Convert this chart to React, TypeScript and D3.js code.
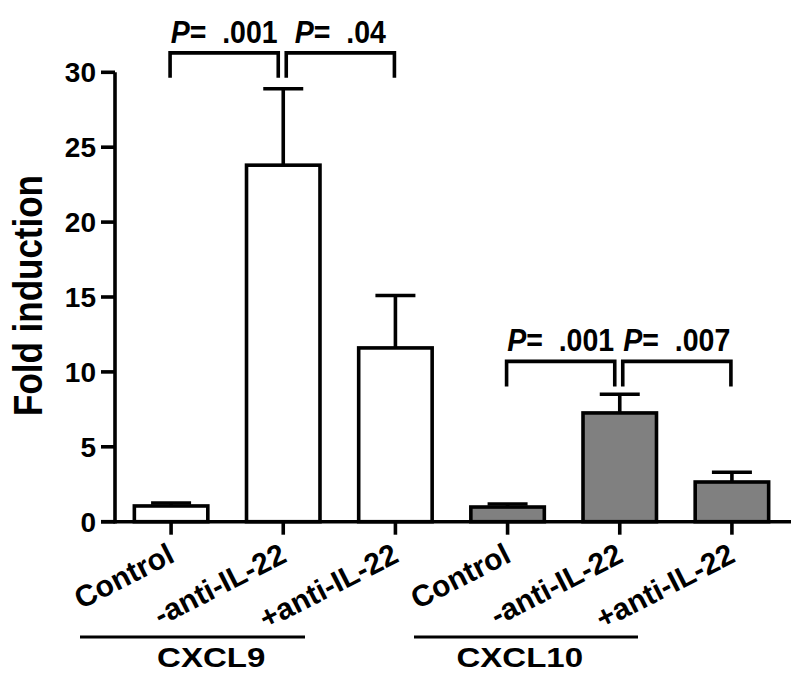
import React from "react";
import * as d3 from "d3";

const categories = ["Control", "-anti-IL-22", "+anti-IL-22", "Control", "-anti-IL-22", "+anti-IL-22"];
const groupOf = ["CXCL9", "CXCL9", "CXCL9", "CXCL10", "CXCL10", "CXCL10"];
const means = [1.05, 23.8, 11.6, 0.98, 7.26, 2.65];
const sems = [0.2, 5.1, 3.5, 0.2, 1.25, 0.65];
const yTicks = [0, 5, 10, 15, 20, 25, 30];
const groups = ["CXCL9", "CXCL10"];
const compFrom = [0, 1, 3, 4];
const compTo = [1, 2, 4, 5];
const compP = [".001", ".04", ".001", ".007"];
const compLevel = [31.3, 31.3, 10.7, 10.7];

const W = 800;
const H = 690;
const FONT = "'Liberation Sans', Arial, Helvetica, sans-serif";

export default function App() {
  const y = d3.scaleLinear().domain([0, 30]).range([521.7, 72.3]);
  const x = d3
    .scaleBand<number>()
    .domain(categories.map((_, i) => i))
    .range([115, 788])
    .paddingInner(0.345)
    .paddingOuter(0.1725);
  const bw = x.bandwidth();
  const cx = (i: number) => (x(i) as number) + bw / 2;
  const sw = 3.6;
  const capHalf = 20;
  const legLen = 25;

  const groupSpan = (g: string) => {
    const idx = groupOf.map((d, i) => (d === g ? i : -1)).filter((i) => i >= 0);
    return [idx[0], idx[idx.length - 1]];
  };

  return (
    <svg width={W} height={H} style={{ position: "absolute", left: 0, top: 0, background: "#fff" }} fontFamily={FONT}>
      <rect x={0} y={0} width={W} height={H} fill="#fff" />
      {/* bars */}
      {means.map((m, i) => (
        <g key={"b" + i}>
          <line x1={cx(i)} x2={cx(i)} y1={y(m)} y2={y(m + sems[i])} stroke="#000" strokeWidth={sw} />
          <line x1={cx(i) - capHalf} x2={cx(i) + capHalf} y1={y(m + sems[i])} y2={y(m + sems[i])} stroke="#000" strokeWidth={sw} />
          <rect
            x={x(i)}
            y={y(m)}
            width={bw}
            height={y(0) - y(m)}
            fill={groupOf[i] === "CXCL9" ? "#fff" : "#808080"}
            stroke="#000"
            strokeWidth={sw}
          />
        </g>
      ))}
      {/* y axis */}
      <line x1={115} x2={115} y1={y(30)} y2={y(0) + sw / 2} stroke="#000" strokeWidth={sw} />
      {yTicks.map((t) => (
        <g key={"yt" + t}>
          <line x1={101} x2={115} y1={y(t)} y2={y(t)} stroke="#000" strokeWidth={sw} />
          <text x={96} y={y(t)} dy="0.36em" textAnchor="end" fontSize={28} fontWeight="bold">
            {t}
          </text>
        </g>
      ))}
      {/* x axis */}
      <line x1={101} x2={791} y1={y(0)} y2={y(0)} stroke="#000" strokeWidth={sw} />
      {categories.map((c, i) => (
        <g key={"xt" + i}>
          <line x1={cx(i)} x2={cx(i)} y1={y(0)} y2={y(0) + 13} stroke="#000" strokeWidth={sw} />
          <text
            transform={`translate(${cx(i) + 5},${561}) rotate(-27)`}
            textAnchor="end"
            fontSize={30}
            fontWeight="bold"
          >
            {c}
          </text>
        </g>
      ))}
      {/* group lines */}
      {groups.map((g, gi) => {
        const [a, b] = groupSpan(g);
        const x1 = gi === 0 ? 80 : 414;
        const x2 = gi === 0 ? 305 : 638;
        const tx = (cx(a) + cx(b)) / 2 - (gi === 0 ? 72 : 100);
        return (
          <g key={"g" + g}>
            <line x1={x1} x2={x2} y1={637} y2={637} stroke="#000" strokeWidth={3.2} />
            <text transform={`translate(${tx},667) scale(1.18,1)`} textAnchor="middle" fontSize={28} fontWeight="bold">
              {g}
            </text>
          </g>
        );
      })}
      {/* significance brackets */}
      {compFrom.map((f, k) => {
        const t = compTo[k];
        const first = k % 2 === 0;
        const xa = first ? cx(f) - 1 : cx(f) + 3;
        const xb = first ? cx(t) - 5 : cx(t) - 1;
        const yt = y(compLevel[k]);
        return (
          <g key={"c" + k}>
            <path
              d={`M${xa},${yt + legLen}V${yt}H${xb}V${yt + legLen}`}
              fill="none"
              stroke="#000"
              strokeWidth={sw}
            />
            <text
              transform={`translate(${(xa + xb) / 2},${yt - 10}) scale(0.92,1)`}
              textAnchor="middle"
              fontSize={31}
              fontWeight="bold"
              xmlSpace="preserve"
            >
              <tspan fontStyle="italic">P</tspan>
              <tspan>{"=  " + compP[k]}</tspan>
            </text>
          </g>
        );
      })}
      {/* y label */}
      <text
        transform={`translate(42,${(173 + 418) / 2}) rotate(-90) scale(1,1.15)`}
        textAnchor="middle"
        fontSize={35}
        fontWeight="bold"
      >
        Fold induction
      </text>
    </svg>
  );
}
